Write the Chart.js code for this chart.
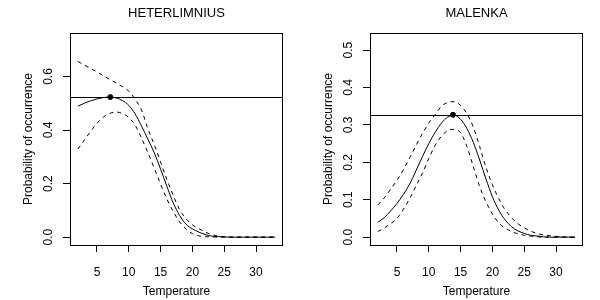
<!DOCTYPE html>
<html>
<head>
<meta charset="utf-8">
<script src="https://cdn.jsdelivr.net/npm/chart.js@4/dist/chart.umd.min.js"></script>
<style>
  html, body { margin: 0; padding: 0; background: #fff; }
  #wrap { display: flex; width: 600px; height: 300px; }
  canvas { display: block; }
</style>
</head>
<body>
<div id="wrap">
  <canvas id="hetChart" width="300" height="300"></canvas>
  <canvas id="malChart" width="300" height="300"></canvas>
</div>
<script>
// temperature grid shared by both panels
const temps = [2, 3, 4, 5, 6, 7, 8, 9, 10, 11, 12, 13, 14, 15, 16, 17, 18, 19, 20, 21, 22, 23, 24, 25, 26, 27, 28, 29, 30, 31, 32, 33]
const xTicks = [5, 10, 15, 20, 25, 30]

// HETERLIMNIUS
const hetFit = [0.489, 0.500, 0.509, 0.516, 0.521, 0.523, 0.520, 0.510, 0.492, 0.460, 0.415, 0.366, 0.315, 0.254, 0.189, 0.127, 0.081, 0.048, 0.031, 0.019, 0.010, 0.004, 0.002, 0.001, 0, 0, 0, 0, 0, 0, 0, 0]
const hetUpper = [0.656, 0.643, 0.630, 0.617, 0.603, 0.589, 0.576, 0.562, 0.545, 0.515, 0.475, 0.405, 0.346, 0.280, 0.215, 0.155, 0.102, 0.069, 0.046, 0.032, 0.019, 0.010, 0.004, 0.001, 0, 0, 0, 0, 0, 0, 0, 0]
const hetLower = [0.329, 0.362, 0.395, 0.425, 0.448, 0.462, 0.467, 0.462, 0.447, 0.418, 0.370, 0.316, 0.258, 0.198, 0.142, 0.095, 0.057, 0.030, 0.013, 0.005, 0.002, 0.001, 0, 0, 0, 0, 0, 0, 0, 0, 0, 0]
const hetOpt = [7.1, 0.523]
const hetYTicks = [0, 0.2, 0.4, 0.6]

// MALENKA
const malFit = [0.040, 0.052, 0.070, 0.090, 0.114, 0.142, 0.178, 0.215, 0.250, 0.280, 0.305, 0.321, 0.326, 0.315, 0.290, 0.253, 0.206, 0.155, 0.108, 0.072, 0.046, 0.028, 0.017, 0.010, 0.005, 0.003, 0.001, 0, 0, 0, 0, 0]
const malUpper = [0.086, 0.105, 0.128, 0.152, 0.180, 0.212, 0.245, 0.277, 0.305, 0.328, 0.350, 0.360, 0.362, 0.352, 0.330, 0.294, 0.242, 0.186, 0.140, 0.103, 0.073, 0.052, 0.036, 0.025, 0.016, 0.010, 0.006, 0.004, 0.002, 0.001, 0, 0]
const malLower = [0.015, 0.025, 0.036, 0.050, 0.074, 0.103, 0.137, 0.171, 0.210, 0.245, 0.270, 0.285, 0.288, 0.279, 0.242, 0.188, 0.135, 0.094, 0.062, 0.038, 0.024, 0.015, 0.009, 0.005, 0.003, 0.001, 0, 0, 0, 0, 0, 0]
const malOpt = [13.8, 0.327]
const malYTicks = [0, 0.1, 0.2, 0.3, 0.4, 0.5]

Chart.defaults.font.family = "'Liberation Sans', Arial, sans-serif"
Chart.defaults.font.size = 12
Chart.defaults.color = '#000'

const toPoints = (xs, ys) => xs.map((x, i) => ({ x: x, y: ys[i] }))

// R-style extended range (4% each side)
const padRange = (lo, hi) => { const d = (hi - lo) * 0.04; return [lo - d, hi + d] }

// box around the plot, horizontal line at the optimum, title centred over the plot
const boxPlugin = {
  id: 'rbox',
  afterDatasetsDraw(chart, args, opts) {
    const { ctx, chartArea: a, scales } = chart
    ctx.save()
    ctx.strokeStyle = '#000'
    ctx.lineWidth = 1
    const yy = Math.round(scales.y.getPixelForValue(opts.hline)) + 0.5
    ctx.beginPath()
    ctx.moveTo(a.left, yy)
    ctx.lineTo(a.right, yy)
    ctx.stroke()
    ctx.strokeRect(Math.round(a.left) + 0.5, Math.round(a.top) + 0.5, Math.round(a.width) - 1, Math.round(a.height))
    ctx.fillStyle = '#000'
    ctx.font = "13px 'Liberation Sans', Arial, sans-serif"
    ctx.textAlign = 'center'
    ctx.textBaseline = 'middle'
    ctx.fillText(opts.title, (a.left + a.right) / 2, 13)
    ctx.restore()
  }
}

function makeChart(id, title, fit, upper, lower, opt, yTicks, yMaxData) {
  const [xmin, xmax] = padRange(temps[0], temps[temps.length - 1])
  const [ymin, ymax] = padRange(0, yMaxData)
  const line = (data, dash) => ({
    data: toPoints(temps, data),
    borderColor: '#000',
    borderWidth: 1,
    borderDash: dash,
    pointRadius: 0,
    cubicInterpolationMode: 'monotone',
    fill: false
  })
  return new Chart(document.getElementById(id), {
    type: 'line',
    data: {
      datasets: [
        line(fit, []),
        line(upper, [4, 4]),
        line(lower, [4, 4]),
        {
          type: 'scatter',
          data: [{ x: opt[0], y: opt[1] }],
          backgroundColor: '#000',
          borderColor: '#000',
          pointRadius: 2.5
        }
      ]
    },
    options: {
      responsive: false,
      animation: false,
      devicePixelRatio: 1,
      layout: { padding: { top: 33, right: 17, bottom: 0, left: 0 } },
      plugins: {
        legend: { display: false },
        tooltip: { enabled: false },
        title: { display: false },
        rbox: { hline: opt[1], title: title }
      },
      scales: {
        x: {
          type: 'linear',
          min: xmin,
          max: xmax,
          afterFit: (s) => { s.height = 55 },
          afterBuildTicks: (s) => { s.ticks = xTicks.map(v => ({ value: v })) },
          ticks: { padding: 13, maxRotation: 0, color: '#000' },
          grid: { drawOnChartArea: false, drawTicks: true, tickLength: 7, color: '#000' },
          border: { display: false },
          title: { display: true, text: 'Temperature', color: '#000', padding: { top: 0, bottom: 1 } }
        },
        y: {
          type: 'linear',
          min: ymin,
          max: ymax,
          afterFit: (s) => { s.width = 70 },
          afterBuildTicks: (s) => { s.ticks = yTicks.map(v => ({ value: v })) },
          ticks: {
            padding: 6,
            minRotation: 90,
            maxRotation: 90,
            crossAlign: 'center',
            color: '#000',
            callback: (v) => v.toFixed(1)
          },
          grid: { drawOnChartArea: false, drawTicks: true, tickLength: 7, color: '#000' },
          border: { display: false },
          title: { display: true, text: 'Probability of occurrence', color: '#000', padding: { top: 21, bottom: 0 } }
        }
      }
    },
    plugins: [boxPlugin]
  })
}

makeChart('hetChart', 'HETERLIMNIUS', hetFit, hetUpper, hetLower, hetOpt, hetYTicks, 0.733)
makeChart('malChart', 'MALENKA', malFit, malUpper, malLower, malOpt, malYTicks, 0.5246)
</script>
</body>
</html>
